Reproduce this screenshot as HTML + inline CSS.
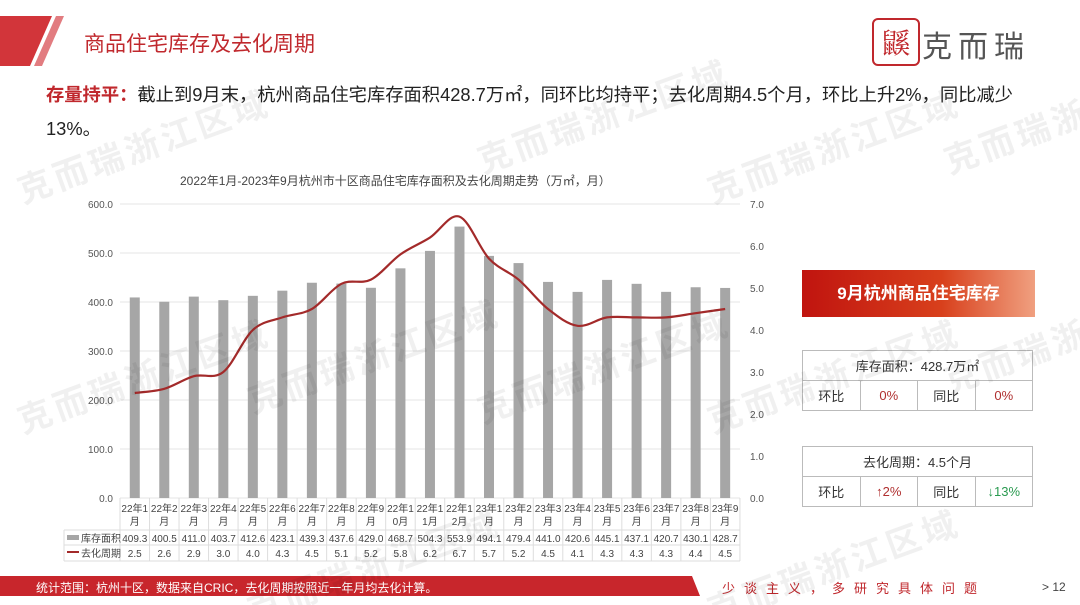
<!DOCTYPE html>
<html><head><meta charset="utf-8">
<style>
html,body{margin:0;width:1080px;height:605px;overflow:hidden;background:#fff;font-family:"Liberation Sans","Noto Sans CJK SC",sans-serif;position:relative}
.abs{position:absolute}
.wm{position:absolute;color:rgba(0,0,0,0.06);font-size:34px;font-weight:bold;transform:rotate(-20deg);white-space:nowrap;letter-spacing:4px}
table.k{position:absolute;border-collapse:collapse;font-size:13px;color:#333;table-layout:fixed}
table.k td{border:1px solid #bbb;text-align:center;height:29px;padding:0}
</style></head><body>
<svg class="abs" style="left:0;top:0" width="80" height="70">
<polygon points="0,16 52,16 30,66 0,66" fill="#d2353a"/>
<polygon points="56,16 64,16 42,66 34,66" fill="#e27c80"/>
</svg>
<div class="abs" style="left:84px;top:28px;font-size:21px;color:#c0282d">商品住宅库存及去化周期</div>
<div class="abs" style="left:872px;top:18px;width:44px;height:44px;border:2px solid #c0282d;border-radius:6px;color:#c0282d;font-size:28px;line-height:44px;text-align:center;font-family:'Noto Serif CJK SC',serif">鼷</div>
<div class="abs" style="left:922px;top:22px;font-size:30px;color:#555;letter-spacing:6px">克而瑞</div>
<div class="abs" style="left:46px;top:78px;font-size:18.3px;color:#222;width:1020px;line-height:34px;white-space:nowrap"><span style="color:#c0282d;font-weight:bold">存量持平：</span>截止到9月末，杭州商品住宅库存面积428.7万㎡，同环比均持平；去化周期4.5个月，环比上升2%，同比减少<br>13%。</div>
<div class="abs" style="left:180px;top:172px;font-size:12px;color:#444">2022年1月-2023年9月杭州市十区商品住宅库存面积及去化周期走势（万㎡，月）</div>
<svg id="ch" class="abs" style="left:0;top:0" width="1080" height="605" font-family="Liberation Sans, Noto Sans CJK SC, sans-serif"></svg>
<div class="abs" style="left:802px;top:270px;width:233px;height:47px;background:linear-gradient(90deg,#c0140f 0%,#d8401c 60%,#f0a080 100%);color:#fff;font-size:17px;font-weight:bold;line-height:47px;text-align:center">9月杭州商品住宅库存</div>
<table class="k" style="left:802px;top:350px;width:231px">
<tr><td colspan="4">库存面积：428.7万㎡</td></tr>
<tr><td>环比</td><td style="color:#b03030">0%</td><td>同比</td><td style="color:#b03030">0%</td></tr></table>
<table class="k" style="left:802px;top:446px;width:231px">
<tr><td colspan="4">去化周期：4.5个月</td></tr>
<tr><td>环比</td><td style="color:#b03030">↑2%</td><td>同比</td><td style="color:#2a9a50">↓13%</td></tr></table>
<svg class="abs" style="left:0;top:576px" width="710" height="22"><polygon points="0,0 692,0 700,20 0,20" fill="#c8262c"/></svg>
<div class="abs" style="left:36px;top:579px;font-size:12px;color:#fff">统计范围：杭州十区，数据来自CRIC，去化周期按照近一年月均去化计算。</div>
<div class="abs" style="left:722px;top:578px;font-size:13px;color:#c0282d;letter-spacing:9px;white-space:nowrap">少谈主义，多研究具体问题</div>
<div class="abs" style="left:1042px;top:580px;font-size:12px;color:#444">&gt; 12</div>
<div class="wm" style="left:10px;top:120px">克而瑞浙江区域</div>
<div class="wm" style="left:470px;top:90px">克而瑞浙江区域</div>
<div class="wm" style="left:700px;top:120px">克而瑞浙江区域</div>
<div class="wm" style="left:940px;top:110px">克而瑞浙</div>
<div class="wm" style="left:10px;top:350px">克而瑞浙江区域</div>
<div class="wm" style="left:240px;top:330px">克而瑞浙江区域</div>
<div class="wm" style="left:470px;top:340px">克而瑞浙江区域</div>
<div class="wm" style="left:700px;top:350px">克而瑞浙江区域</div>
<div class="wm" style="left:940px;top:330px">克而瑞浙</div>
<div class="wm" style="left:240px;top:540px">克而瑞浙江区域</div>
<div class="wm" style="left:700px;top:540px">克而瑞浙江区域</div>
<script>
var A=[409.3,400.5,411.0,403.7,412.6,423.1,439.3,437.6,429.0,468.7,504.3,553.9,494.1,479.4,441.0,420.6,445.1,437.1,420.7,430.1,428.7];
var C=[2.5,2.6,2.9,3.0,4.0,4.3,4.5,5.1,5.2,5.8,6.2,6.7,5.7,5.2,4.5,4.1,4.3,4.3,4.3,4.4,4.5];
var L=["22年1|月","22年2|月","22年3|月","22年4|月","22年5|月","22年6|月","22年7|月","22年8|月","22年9|月","22年1|0月","22年1|1月","22年1|2月","23年1|月","23年2|月","23年3|月","23年4|月","23年5|月","23年6|月","23年7|月","23年8|月","23年9|月"];
var s="",x0=120,w=29.52,y0=498;
for(var g=0;g<=6;g++){var y=y0-g*49;s+='<line x1="120" x2="740" y1="'+y+'" y2="'+y+'" stroke="#e6e6e6"/>';
s+='<text x="113" y="'+(y+4)+'" font-size="10" fill="#555" text-anchor="end">'+(g*100).toFixed(1)+'</text>';}
for(var g=0;g<=7;g++){var y=y0-g*42;s+='<text x="750" y="'+(y+4)+'" font-size="10" fill="#555">'+g.toFixed(1)+'</text>';}
var pts=[];
for(var i=0;i<21;i++){var cx=x0+w*(i+0.5);var h=A[i]*0.49;
s+='<rect x="'+(cx-5)+'" y="'+(y0-h)+'" width="10" height="'+h+'" fill="#a6a6a6"/>';
pts.push([cx,y0-C[i]*42]);
var p=L[i].split("|");
s+='<text x="'+cx+'" y="512" font-size="10" fill="#444" text-anchor="middle">'+p[0]+'</text>';
s+='<text x="'+cx+'" y="525" font-size="10" fill="#444" text-anchor="middle">'+p[1]+'</text>';
s+='<text x="'+cx+'" y="542" font-size="10" fill="#444" text-anchor="middle">'+A[i].toFixed(1)+'</text>';
s+='<text x="'+cx+'" y="557" font-size="10" fill="#444" text-anchor="middle">'+C[i].toFixed(1)+'</text>';}
for(var i=0;i<=21;i++){var xx=x0+w*i;s+='<line x1="'+xx+'" x2="'+xx+'" y1="498" y2="561" stroke="#ddd"/>';}
s+='<line x1="64" x2="740" y1="530" y2="530" stroke="#ddd"/><line x1="64" x2="740" y1="545" y2="545" stroke="#ddd"/><line x1="64" x2="740" y1="561" y2="561" stroke="#ddd"/><line x1="64" x2="64" y1="530" y2="561" stroke="#ddd"/>';
s+='<rect x="67" y="535" width="12" height="5" fill="#a6a6a6"/><text x="81" y="542" font-size="10" fill="#444">库存面积</text>';
s+='<line x1="67" x2="79" y1="552" y2="552" stroke="#a32a2a" stroke-width="2"/><text x="81" y="557" font-size="10" fill="#444">去化周期</text>';
var d="M"+pts[0][0]+","+pts[0][1];
for(var i=0;i<20;i++){var p0=pts[Math.max(i-1,0)],p1=pts[i],p2=pts[i+1],p3=pts[Math.min(i+2,20)];
d+=" C"+(p1[0]+(p2[0]-p0[0])/6)+","+(p1[1]+(p2[1]-p0[1])/6)+" "+(p2[0]-(p3[0]-p1[0])/6)+","+(p2[1]-(p3[1]-p1[1])/6)+" "+p2[0]+","+p2[1];}
s+='<path d="'+d+'" fill="none" stroke="#a32a2a" stroke-width="2.2"/>';
document.getElementById("ch").innerHTML=s;
</script>
</body></html>
